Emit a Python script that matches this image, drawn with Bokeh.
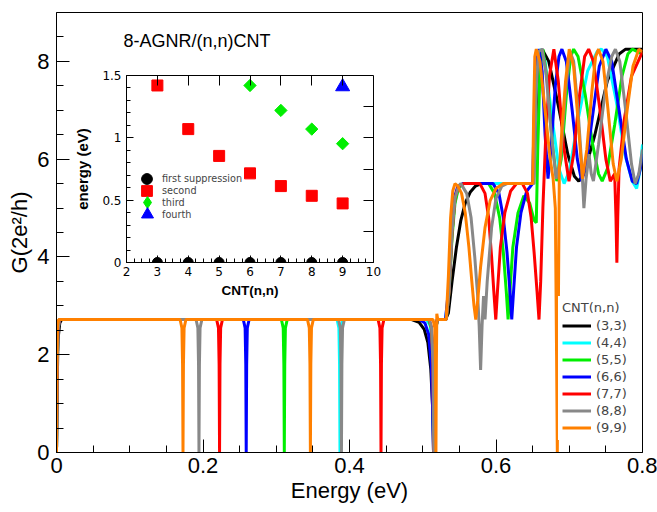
from bokeh.plotting import figure
from bokeh.models import (FixedTicker, NumeralTickFormatter, Legend, LegendItem,
                          LinearAxis, Label, CustomJSTickFormatter)
from bokeh.layouts import column
from bokeh.embed import file_html
from bokeh.resources import INLINE

# ---------------- data: conductance curves (Energy eV, G in 2e^2/h) ----------------
CNT_33 = [(0.0, 0.0), (0.0008, 1.2), (0.002, 2.3), (0.0045, 2.65), (0.007, 2.72),
          (0.485, 2.72), (0.495, 2.66), (0.502, 2.52), (0.507, 2.25), (0.511, 1.7), (0.5135, 0.9),
          (0.5147, 0.0), (0.516, 1.5), (0.5175, 2.5), (0.520, 2.72),
          (0.531, 2.72), (0.535, 2.85), (0.540, 3.5), (0.546, 4.2), (0.552, 4.75), (0.558, 5.1),
          (0.565, 5.33), (0.572, 5.45), (0.580, 5.5),
          (0.651, 5.5), (0.654, 6.6), (0.657, 7.9), (0.663, 8.25), (0.672, 8.0), (0.685, 7.1),
          (0.698, 6.1), (0.707, 5.65), (0.713, 5.55), (0.720, 5.7), (0.735, 6.5), (0.752, 7.6),
          (0.768, 8.15), (0.777, 8.25), (0.800, 8.25)]

CNT_44 = [(0.0, 0.0), (0.0008, 1.6), (0.002, 2.5), (0.004, 2.72),
          (0.383, 2.72), (0.3855, 2.55), (0.3864, 1.8), (0.387, 0.0), (0.3876, 1.8), (0.3885, 2.55), (0.391, 2.72),
          (0.505, 2.72), (0.510, 2.6), (0.5128, 2.2), (0.514, 1.2), (0.515, 0.0), (0.516, 1.5), (0.5175, 2.5), (0.520, 2.72),
          (0.531, 2.72), (0.535, 3.2), (0.539, 4.3), (0.543, 5.05), (0.548, 5.4), (0.555, 5.5),
          (0.651, 5.5), (0.654, 7.2), (0.657, 8.1), (0.661, 8.25), (0.667, 8.0), (0.676, 6.9), (0.686, 5.8),
          (0.693, 5.5), (0.700, 5.75), (0.712, 6.8), (0.725, 7.8), (0.738, 8.2), (0.744, 8.25), (0.752, 8.1),
          (0.764, 7.2), (0.776, 6.1), (0.786, 5.55), (0.792, 5.4), (0.797, 5.8), (0.800, 6.3)]

CNT_55 = [(0.0, 0.0), (0.0008, 1.6), (0.002, 2.5), (0.004, 2.72),
          (0.307, 2.72), (0.3095, 2.55), (0.3104, 1.8), (0.311, 0.0), (0.3116, 1.8), (0.3125, 2.55), (0.315, 2.72),
          (0.508, 2.72), (0.5115, 2.55), (0.5138, 1.8), (0.515, 0.0), (0.516, 1.6), (0.5175, 2.5), (0.520, 2.72),
          (0.532, 2.72), (0.536, 3.3), (0.540, 4.4), (0.544, 5.1), (0.549, 5.42), (0.556, 5.5),
          (0.590, 5.5), (0.598, 5.3), (0.605, 4.8), (0.610, 4.1), (0.614, 3.3), (0.6165, 2.72), (0.619, 3.3),
          (0.623, 4.2), (0.630, 4.9), (0.638, 5.25), (0.646, 5.1), (0.652, 4.75), (0.655, 4.7), (0.657, 6.2),
          (0.660, 7.8), (0.664, 8.25),
          (0.670, 7.6), (0.677, 6.3), (0.683, 5.55), (0.689, 6.0), (0.696, 7.3), (0.702, 8.1), (0.706, 8.25),
          (0.712, 8.1), (0.722, 7.3), (0.732, 6.3), (0.740, 5.7), (0.745, 5.55), (0.752, 5.8), (0.762, 6.7),
          (0.772, 7.7), (0.780, 8.15), (0.786, 8.25), (0.800, 8.15)]

CNT_66 = [(0.0, 0.0), (0.0008, 1.6), (0.002, 2.5), (0.004, 2.72),
          (0.255, 2.72), (0.2575, 2.55), (0.2584, 1.8), (0.259, 0.0), (0.2596, 1.8), (0.2605, 2.55), (0.263, 2.72),
          (0.495, 2.72), (0.503, 2.65), (0.508, 2.42), (0.5115, 1.8), (0.5135, 0.9), (0.5147, 0.0), (0.516, 1.6),
          (0.5178, 2.6), (0.520, 2.72),
          (0.531, 2.72), (0.535, 3.3), (0.539, 4.5), (0.543, 5.2), (0.548, 5.45), (0.555, 5.5),
          (0.596, 5.5), (0.604, 5.3), (0.610, 4.8), (0.615, 4.1), (0.619, 3.3), (0.6215, 2.72), (0.624, 3.3),
          (0.628, 4.2), (0.634, 4.9), (0.642, 5.35), (0.650, 5.5),
          (0.652, 6.8), (0.655, 8.0), (0.659, 8.25), (0.663, 7.8), (0.667, 6.5), (0.671, 5.6), (0.675, 6.2),
          (0.681, 7.5), (0.686, 8.1), (0.690, 8.25), (0.696, 8.0), (0.704, 7.0), (0.711, 6.0), (0.717, 5.55),
          (0.723, 5.9), (0.732, 6.9), (0.741, 7.9), (0.750, 8.25), (0.758, 8.0), (0.768, 7.0), (0.778, 6.0),
          (0.786, 5.55), (0.792, 5.5), (0.797, 5.8), (0.800, 6.1)]

CNT_77 = [(0.0, 0.0), (0.0008, 1.6), (0.002, 2.5), (0.004, 2.72),
          (0.2186, 2.72), (0.2211, 2.55), (0.222, 1.8), (0.2226, 0.0), (0.2232, 1.8), (0.2241, 2.55), (0.2266, 2.72),
          (0.439, 2.72), (0.4415, 2.55), (0.4424, 1.8), (0.443, 0.0), (0.4436, 1.8), (0.4445, 2.55), (0.447, 2.72),
          (0.509, 2.72), (0.512, 2.55), (0.514, 1.8), (0.515, 0.0), (0.516, 1.6), (0.5175, 2.5), (0.520, 2.72),
          (0.532, 2.72), (0.536, 3.3), (0.540, 4.5), (0.544, 5.2), (0.549, 5.45), (0.556, 5.5),
          (0.578, 5.5), (0.585, 5.3), (0.590, 4.8), (0.594, 4.0), (0.597, 3.3), (0.5997, 2.72), (0.602, 3.3),
          (0.606, 4.2), (0.612, 4.9), (0.620, 5.35), (0.628, 5.5),
          (0.636, 5.5), (0.643, 5.3), (0.648, 4.8), (0.652, 4.1), (0.656, 3.3), (0.6587, 2.72), (0.661, 3.5),
          (0.664, 5.0), (0.668, 6.5), (0.673, 7.7), (0.679, 8.25),
          (0.685, 7.6), (0.692, 6.3), (0.6996, 5.55), (0.706, 6.1), (0.714, 7.3), (0.721, 8.1), (0.7265, 8.25),
          (0.733, 8.0), (0.742, 7.0), (0.750, 6.0), (0.756, 5.55), (0.762, 5.7), (0.7638, 4.8), (0.765, 3.88),
          (0.7662, 4.8), (0.768, 5.8), (0.775, 6.8), (0.785, 7.7), (0.800, 8.2)]

CNT_88 = [(0.0, 0.0), (0.0008, 1.6), (0.002, 2.5), (0.004, 2.72),
          (0.1905, 2.72), (0.193, 2.55), (0.1939, 1.8), (0.1945, 0.0), (0.1951, 1.8), (0.196, 2.55), (0.1985, 2.72),
          (0.385, 2.72), (0.3875, 2.55), (0.3884, 1.8), (0.389, 0.0), (0.3896, 1.8), (0.3905, 2.55), (0.393, 2.72),
          (0.509, 2.72), (0.512, 2.55), (0.514, 1.8), (0.515, 0.0), (0.516, 1.6), (0.5175, 2.5), (0.520, 2.72),
          (0.532, 2.72), (0.536, 3.3), (0.540, 4.5), (0.544, 5.2), (0.549, 5.45), (0.552, 5.5),
          (0.560, 5.3), (0.566, 4.8), (0.571, 4.0), (0.575, 3.2), (0.577, 2.6), (0.579, 1.69), (0.581, 2.6),
          (0.583, 3.2), (0.585, 2.72), (0.588, 3.5), (0.594, 4.6), (0.600, 5.2), (0.608, 5.45), (0.615, 5.5),
          (0.652, 5.5), (0.655, 7.5), (0.658, 8.2), (0.663, 8.25), (0.668, 7.8), (0.675, 6.6), (0.682, 5.6),
          (0.688, 6.0), (0.695, 7.4), (0.701, 8.2), (0.706, 8.0), (0.712, 7.0), (0.717, 5.9), (0.720, 5.0),
          (0.723, 5.6), (0.727, 6.1), (0.730, 5.7), (0.733, 5.55), (0.740, 6.3), (0.750, 7.5), (0.758, 8.1),
          (0.763, 8.25), (0.769, 8.0), (0.777, 7.0), (0.785, 5.9), (0.790, 5.5), (0.795, 5.7), (0.800, 6.2)]

CNT_99 = [(0.0, 0.0), (0.0006, 1.8), (0.0015, 2.6), (0.003, 2.72),
          (0.1687, 2.72), (0.1712, 2.55), (0.1721, 1.8), (0.1727, 0.0), (0.1733, 1.8), (0.1742, 2.55), (0.1767, 2.72),
          (0.3426, 2.72), (0.3451, 2.55), (0.346, 1.8), (0.3466, 0.0), (0.3472, 1.8), (0.3481, 2.55), (0.3506, 2.72),
          (0.514, 2.72), (0.5165, 2.55), (0.5174, 1.8), (0.518, 0.0), (0.5186, 1.8), (0.5192, 2.84), (0.5205, 2.72),
          (0.532, 2.72), (0.535, 3.6), (0.538, 4.8), (0.541, 5.35), (0.544, 5.5),
          (0.548, 5.45), (0.553, 5.3), (0.558, 4.9), (0.563, 4.2), (0.567, 3.5), (0.570, 3.0), (0.5724, 2.72),
          (0.575, 3.1), (0.579, 3.8), (0.585, 4.6), (0.592, 5.15), (0.600, 5.4), (0.610, 5.5),
          (0.650, 5.5), (0.6515, 7.0), (0.653, 8.1), (0.655, 8.25), (0.660, 8.0), (0.667, 7.0), (0.674, 6.0),
          (0.678, 5.6), (0.681, 5.0), (0.6827, 2.0), (0.6837, 0.0), (0.6847, 2.0), (0.6865, 5.8), (0.690, 6.6),
          (0.695, 7.6), (0.700, 8.25),
          (0.706, 7.9), (0.712, 6.8), (0.718, 5.6), (0.724, 6.2), (0.731, 7.4), (0.736, 8.1), (0.740, 8.25),
          (0.746, 8.0), (0.753, 7.0), (0.760, 5.9), (0.765, 5.55), (0.771, 6.0), (0.779, 7.0), (0.787, 7.9),
          (0.795, 8.25), (0.800, 8.2)]

CURVE_LABELS = ["(3,3)", "(4,4)", "(5,5)", "(6,6)", "(7,7)", "(8,8)", "(9,9)"]
CURVE_COLORS = ["#000000", "#00ffff", "#00ee00", "#0000ff", "#ff0000", "#888888", "#ff8000"]
CURVES = [CNT_33, CNT_44, CNT_55, CNT_66, CNT_77, CNT_88, CNT_99]

X_TICKS = [0.0, 0.2, 0.4, 0.6, 0.8]
Y_TICKS = [0, 2, 4, 6, 8]

# ---------------- data: inset (suppression energies) ----------------
N_ALL = [3, 4, 5, 6, 7, 8, 9]
FIRST = [0, 0, 0, 0, 0, 0, 0]
SECOND = [1.42, 1.07, 0.855, 0.715, 0.613, 0.535, 0.474]
N_THIRD = [6, 7, 8, 9]
THIRD = [1.42, 1.22, 1.07, 0.953]
N_FOURTH = [9]
FOURTH = [1.41]
INSET_X_TICKS = [2, 3, 4, 5, 6, 7, 8, 9, 10]
INSET_Y_TICKS = [0, 0.5, 1.0, 1.5]
INSET_LEGEND = ["first suppression", "second", "third", "fourth"]

MAIN_FONT = "Liberation Sans"

# ---------------- main figure ----------------
p = figure(width=657, height=512, x_range=(0, 0.8), y_range=(0, 9),
           output_backend="svg", toolbar_location=None,
           min_border_left=55, min_border_right=15, min_border_top=12, min_border_bottom=60)
p.grid.visible = False
p.outline_line_color = "black"
p.background_fill_color = "white"
p.border_fill_color = "white"

renderers = []
for pts, col in zip(CURVES, CURVE_COLORS):
    xs = [a for a, b in pts]
    ys = [b for a, b in pts]
    r = p.line(xs, ys, line_color=col, line_width=3)
    renderers.append(r)

xa = p.xaxis[0]
xa.ticker = FixedTicker(ticks=X_TICKS,
                        minor_ticks=[0.05, 0.1, 0.15, 0.25, 0.3, 0.35, 0.45, 0.5, 0.55, 0.65, 0.7, 0.75])
xa.formatter = NumeralTickFormatter(format="0.[0]")
xa.axis_label = "Energy (eV)"
ya = p.yaxis[0]
ya.ticker = FixedTicker(ticks=Y_TICKS,
                        minor_ticks=[0.5, 1, 1.5, 2.5, 3, 3.5, 4.5, 5, 5.5, 6.5, 7, 7.5, 8.5])
ya.axis_label = "G(2e²/h)"
for ax in (xa, ya):
    ax.major_tick_in = 13
    ax.major_tick_out = 0
    ax.minor_tick_in = 7
    ax.minor_tick_out = 0
    ax.axis_line_color = "black"
    ax.major_tick_line_color = "black"
    ax.minor_tick_line_color = "black"
    ax.major_label_text_font = MAIN_FONT
    ax.major_label_text_font_size = "22px"
    ax.major_label_text_color = "black"
    ax.axis_label_text_font = MAIN_FONT
    ax.axis_label_text_font_size = "22px"
    ax.axis_label_text_font_style = "normal"
    ax.axis_label_text_color = "black"
xa.major_label_standoff = 5
xa.axis_label_standoff = 2
ya.major_label_standoff = 7
ya.axis_label_standoff = 2

p.add_layout(Label(x=0.0913, y=8.41, text="8-AGNR/(n,n)CNT", text_font=MAIN_FONT,
                   text_font_size="18px", text_baseline="middle", text_color="black"))

legend = Legend(items=[LegendItem(label=lab, renderers=[r]) for lab, r in zip(CURVE_LABELS, renderers)],
                location=(502, 12), title="CNT(n,n)",
                title_text_font="DejaVu Sans", title_text_font_size="13px", title_text_font_style="normal",
                title_standoff=2,
                label_text_font="DejaVu Sans", label_text_font_size="13px",
                glyph_width=29, glyph_height=17, label_height=17, spacing=0, padding=4, margin=0,
                label_standoff=5, border_line_alpha=0, background_fill_color="white",
                background_fill_alpha=1)
p.add_layout(legend)

# ---------------- inset figure ----------------
ins = figure(width=318, height=242, x_range=(2, 10), y_range=(0, 1.5),
             output_backend="svg", toolbar_location=None,
             min_border_left=56, min_border_right=12, min_border_top=10, min_border_bottom=45,
             margin=(-447, 0, 0, 70))
ins.grid.visible = False
ins.outline_line_color = "black"
ins.background_fill_color = "white"
ins.border_fill_alpha = 0

r1 = ins.scatter(N_ALL, FIRST, marker="circle", size=10, color="black")
r2 = ins.scatter(N_ALL, SECOND, marker="square", size=11, color="#ff0000")
# diamond used for the legend key; the rotated square drawn over it gives the squarer diamond shape
r3 = ins.scatter(N_THIRD, THIRD, marker="diamond", size=10, color="#00ee00")
ins.scatter(N_THIRD, THIRD, marker="square", angle=0.7854, size=8.7, color="#00ee00")
r4 = ins.scatter(N_FOURTH, FOURTH, marker="triangle", size=14, color="#0000ff")

ixa = ins.xaxis[0]
ixa.ticker = FixedTicker(ticks=INSET_X_TICKS,
                         minor_ticks=[2 + 0.25 * k for k in range(33) if k % 4 != 0])
ixa.axis_label = "CNT(n,n)"
iya = ins.yaxis[0]
iya.ticker = FixedTicker(ticks=INSET_Y_TICKS,
                         minor_ticks=[0.1 * k for k in range(16) if k % 5 != 0])
iya.formatter = NumeralTickFormatter(format="0.[0]")
iya.axis_label = "energy (eV)"
for ax in (ixa, iya):
    ax.major_tick_in = 7
    ax.major_tick_out = 0
    ax.minor_tick_in = 4
    ax.minor_tick_out = 0
    ax.axis_line_color = "black"
    ax.major_label_text_font = "DejaVu Sans"
    ax.major_label_text_font_size = "12px"
    ax.major_label_text_color = "black"
    ax.axis_label_text_font = MAIN_FONT
    ax.axis_label_text_font_style = "bold"
    ax.axis_label_text_color = "black"
ixa.axis_label_text_font_size = "13.5px"
iya.axis_label_text_font_size = "15px"
ixa.major_label_standoff = 4
ixa.axis_label_standoff = 4
iya.major_label_standoff = 5
iya.axis_label_standoff = 8

right_ax = LinearAxis(ticker=FixedTicker(ticks=[0.25, 0.5, 0.75, 1.0, 1.25]),
                      formatter=CustomJSTickFormatter(code="return ''"),
                      major_tick_in=10, major_tick_out=0,
                      minor_tick_in=0, minor_tick_out=0, axis_line_color=None,
                      major_label_standoff=0)
ins.add_layout(right_ax, "right")
top_ax = LinearAxis(ticker=FixedTicker(ticks=[3, 4, 5, 6, 7, 8, 9]),
                    formatter=CustomJSTickFormatter(code="return ''"),
                    major_tick_in=10, major_tick_out=0,
                    minor_tick_in=0, minor_tick_out=0, axis_line_color=None,
                    major_label_standoff=0)
ins.add_layout(top_ax, "above")

# one small legend per entry so that rows stay 12 px apart with full-size markers
leg_specs = [(r1, 27, 7, 70, 2), (r2, 27, 7, 58, 2), (r3, 30, 6, 45, 0), (r4, 30, 6, 33, 0)]
for lab, (rr, g, lx, ly, so) in zip(INSET_LEGEND, leg_specs):
    lg = Legend(items=[LegendItem(label=lab, renderers=[rr])],
                location=(lx, ly), label_text_font="DejaVu Sans", label_text_font_size="9.7px",
                glyph_width=g, glyph_height=g, label_height=12, spacing=0, padding=0, margin=0,
                label_standoff=so, border_line_alpha=0, background_fill_alpha=0)
    ins.add_layout(lg)

layout = column(p, ins, spacing=0)
open("out.html", "w").write(file_html(layout, INLINE))
